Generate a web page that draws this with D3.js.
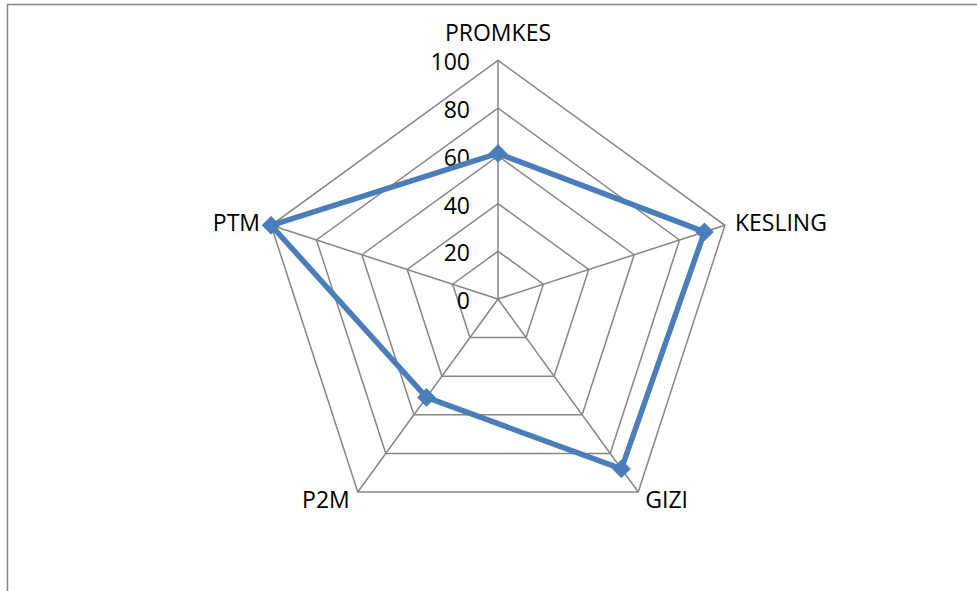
<!DOCTYPE html>
<html><head><meta charset="utf-8">
<script src="https://cdn.jsdelivr.net/npm/d3@7"></script>
<style>html,body{margin:0;padding:0;background:#fff;}svg{display:block;}</style>
</head><body>
<svg id="chart" width="977" height="591"></svg>
<script>
const categories = ["PROMKES", "KESLING", "GIZI", "P2M", "PTM"];
const values = [61, 91, 88, 51, 100];
const tickValues = [0, 20, 40, 60, 80, 100];

const svg = d3.select("#chart");
const cx = 498, cy = 299, R = 238.6;
const font = "'Open Sans', sans-serif";
const fs = 23;

svg.append("rect").attr("x", 7.5).attr("y", 4.5).attr("width", 990).attr("height", 620)
  .attr("fill", "#fff").attr("stroke", "#868686").attr("stroke-width", 1.5);

const r = d3.scaleLinear().domain([0, 100]).range([0, R]);
const angle = d3.scalePoint().domain(categories).range([0, 2 * Math.PI * (categories.length - 1) / categories.length]);
const pt = (c, v) => [cx + r(v) * Math.sin(angle(c)), cy - r(v) * Math.cos(angle(c))];

const g = svg.append("g");
tickValues.filter(t => t > 0).forEach(t => {
  g.append("polygon")
    .attr("points", categories.map(c => pt(c, t).join(",")).join(" "))
    .attr("fill", "none").attr("stroke", "#868686").attr("stroke-width", 1.5);
});
categories.forEach(c => {
  const [x, y] = pt(c, 100);
  g.append("line").attr("x1", cx).attr("y1", cy).attr("x2", x).attr("y2", y)
    .attr("stroke", "#868686").attr("stroke-width", 1.5);
});
tickValues.forEach(t => {
  g.append("text").attr("x", cx - 28).attr("y", cy - r(t) + 10)
    .attr("text-anchor", "end").attr("font-family", font).attr("font-size", fs)
    .attr("fill", "#000").text(t);
});
const labelPos = {
  "PROMKES": {dx: 0, dy: -19, anchor: "middle"},
  "KESLING": {dx: 10, dy: 6, anchor: "start"},
  "GIZI": {dx: 7, dy: 16, anchor: "start"},
  "P2M": {dx: -8, dy: 16, anchor: "end"},
  "PTM": {dx: -11, dy: 6, anchor: "end"}
};
categories.forEach(c => {
  const [x, y] = pt(c, 100);
  const p = labelPos[c];
  g.append("text").attr("x", x + p.dx).attr("y", y + p.dy)
    .attr("text-anchor", p.anchor).attr("font-family", font).attr("font-size", fs)
    .attr("fill", "#000").text(c);
});
const line = d3.line().curve(d3.curveLinearClosed);
const pts = categories.map((c, i) => pt(c, values[i]));
g.append("path").attr("d", line(pts)).attr("fill", "none")
  .attr("stroke", "#4A7EBB").attr("stroke-width", 5.5).attr("stroke-linejoin", "round");
const sym = d3.symbol().type(d3.symbolDiamond2).size(200);
g.selectAll(".mk").data(pts).join("path")
  .attr("transform", d => `translate(${d[0]},${d[1]})`)
  .attr("d", sym).attr("fill", "#4A7EBB").attr("stroke", "#4A7EBB").attr("stroke-width", 1);
</script>
</body></html>
